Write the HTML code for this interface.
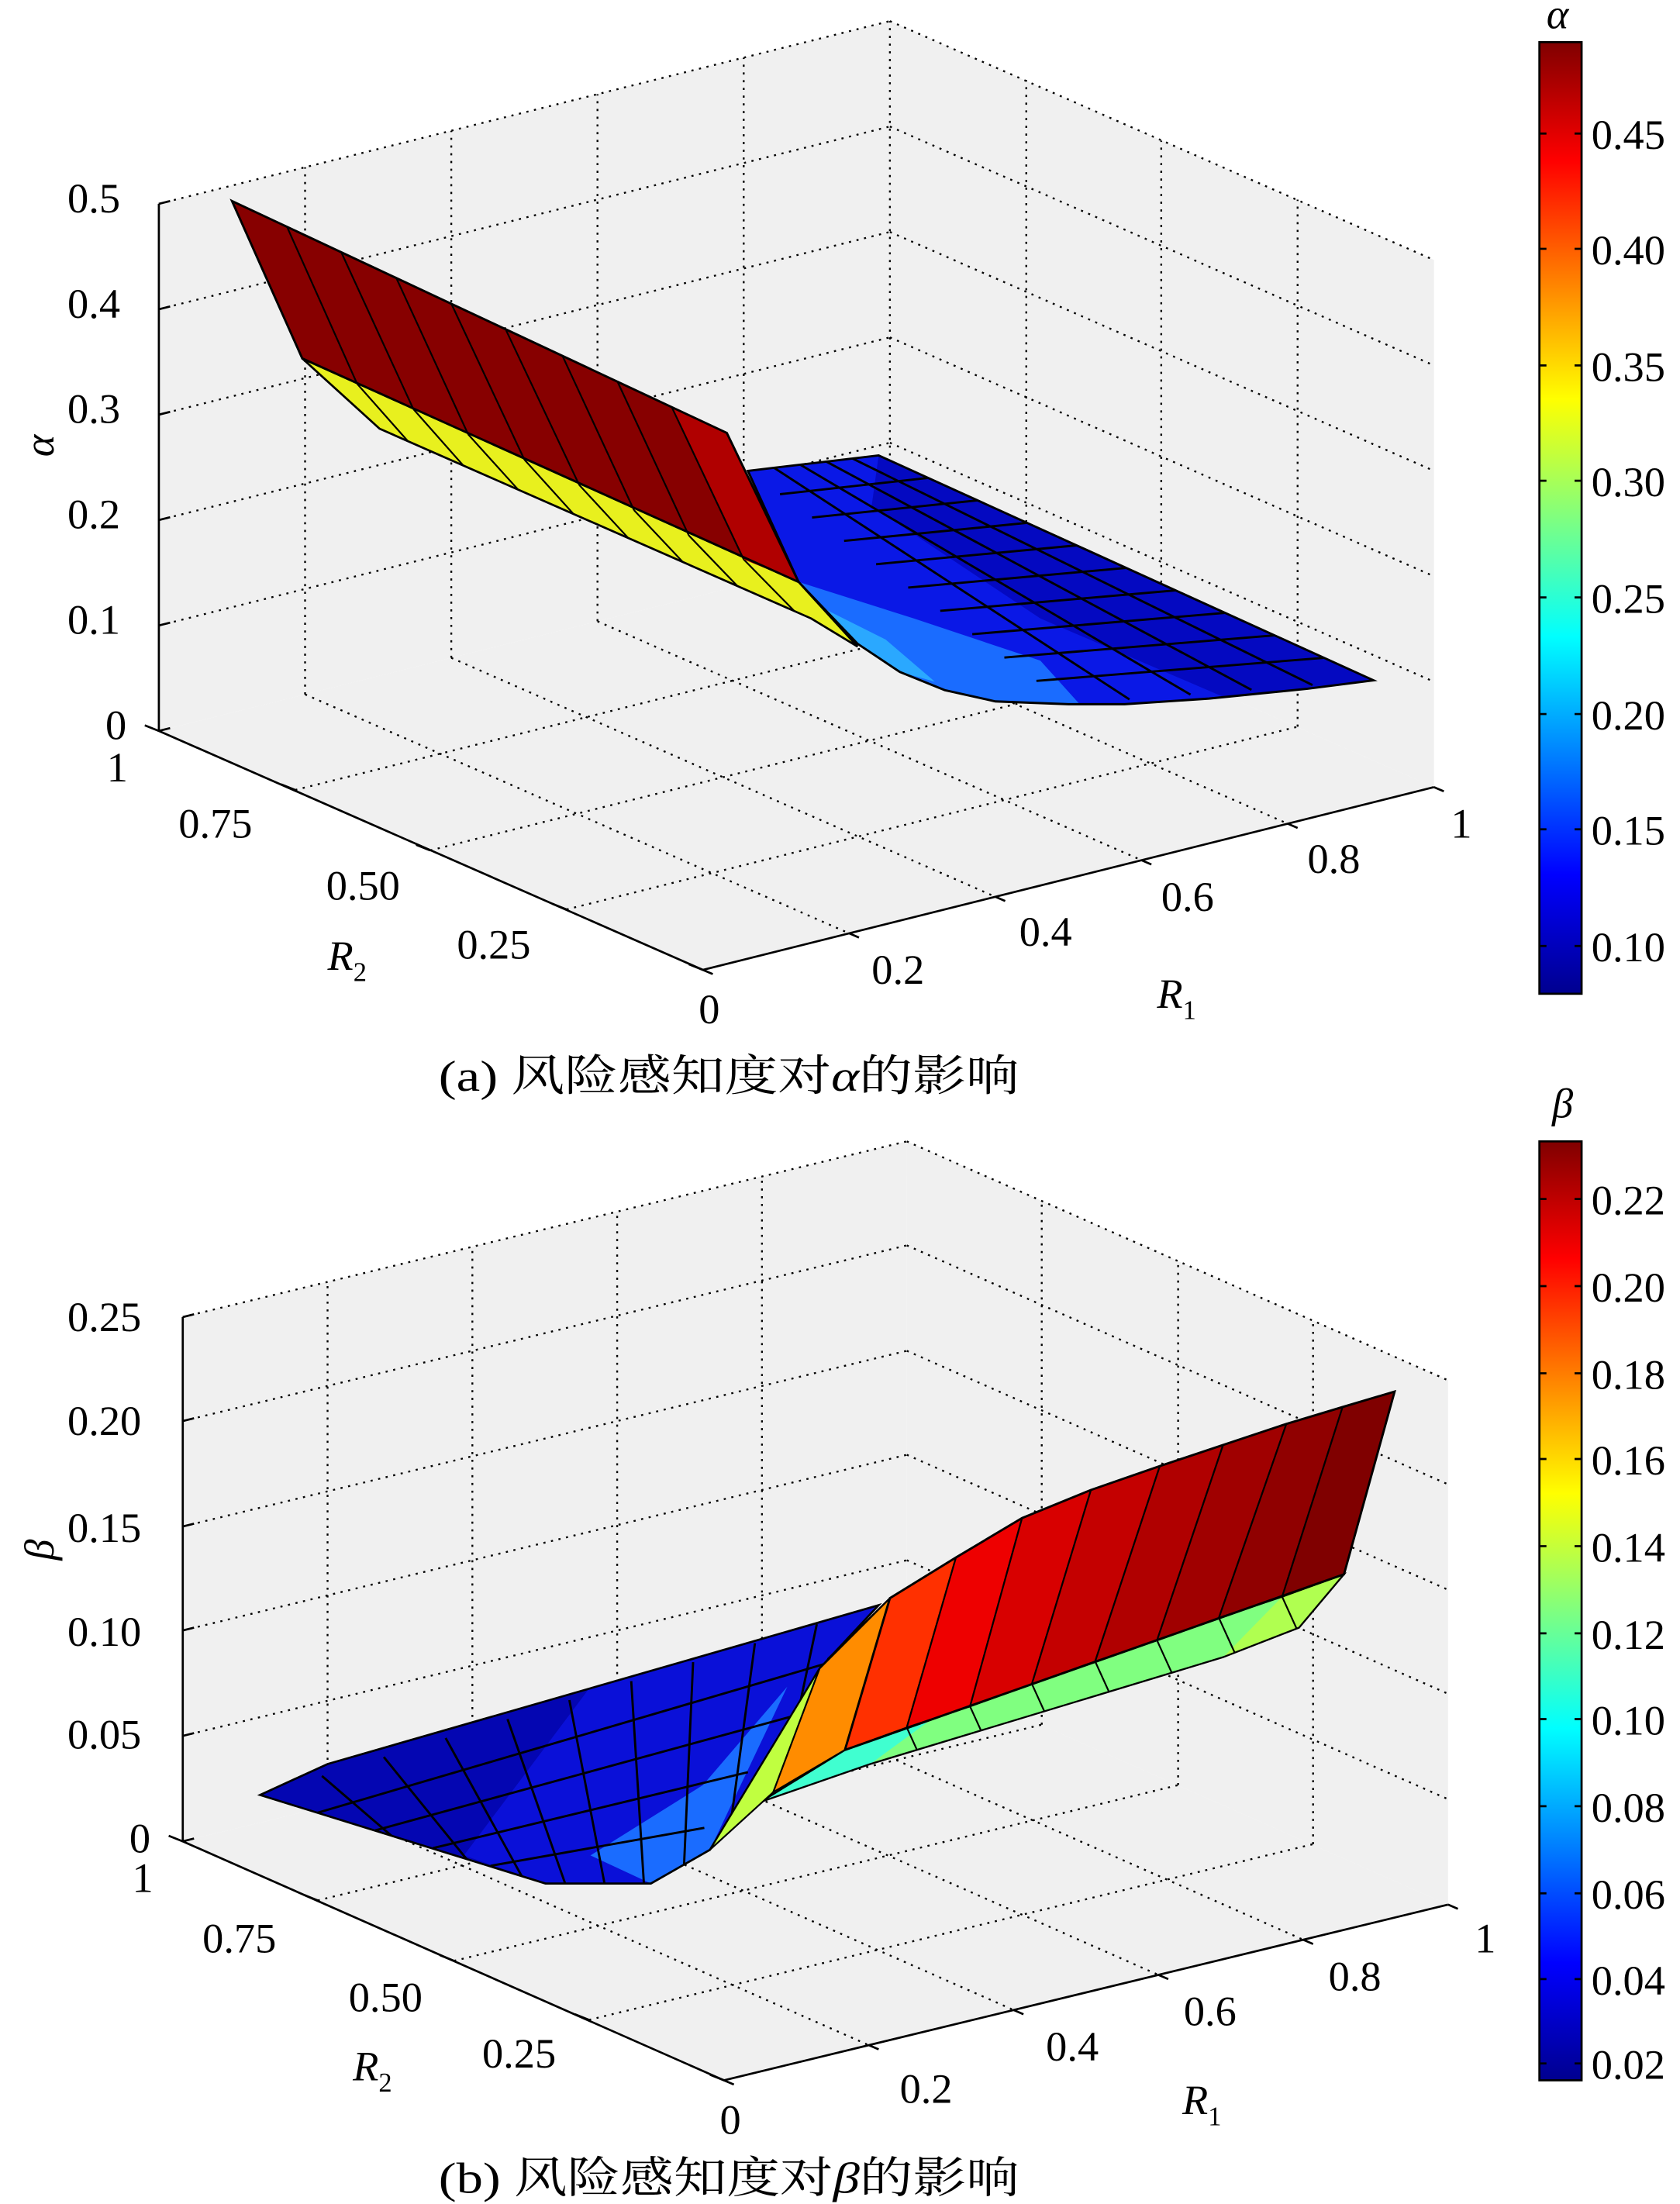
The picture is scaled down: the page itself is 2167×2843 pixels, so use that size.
<!DOCTYPE html>
<html><head><meta charset="utf-8"><style>html,body{margin:0;padding:0;background:#fff}svg{display:block}text{font-family:"Liberation Serif","Noto Serif CJK SC",serif}</style></head>
<body>
<svg width="2167" height="2843" viewBox="0 0 1195 1568" preserveAspectRatio="none" xmlns="http://www.w3.org/2000/svg">
<defs>
<linearGradient id="jet" x1="0" y1="1" x2="0" y2="0">
<stop offset="0" stop-color="#00008f"/><stop offset="0.125" stop-color="#0000ff"/><stop offset="0.375" stop-color="#00ffff"/><stop offset="0.625" stop-color="#ffff00"/><stop offset="0.875" stop-color="#ff0000"/><stop offset="1" stop-color="#800000"/>
</linearGradient>
<clipPath id="cBlueA"><polygon points="532,335 625,324 977,484 930,490 860,497 800,501 760,501 708,499 672,491 640,478 610,458 568,414"/></clipPath>
<clipPath id="cYel"><polygon points="215,255 568,414 610,460 577,440 270,305"/></clipPath>
<clipPath id="cBlueB"><polygon points="185,1277 233,1255 625,1142 583,1187 505,1316 463,1340 388,1340"/></clipPath>
<clipPath id="cGrn"><polygon points="541,1282 601,1245 956,1120 924,1158 870,1179 619,1255"/></clipPath>
</defs>
<rect width="1195" height="1568" fill="#fff"/>

<!-- ===== TOP CHART ===== -->
<g>
<polygon points="113,145 633,15 633,390 113,520" fill="#f0f0f0"/>
<polygon points="633,15 1020,185 1020,560 633,390" fill="#f0f0f0"/>
<polygon points="113,520 633,390 1020,560 500,690" fill="#f0f0f0"/>
<g stroke="#000" stroke-width="1.3" stroke-dasharray="1.5 4" fill="none">
<path d="M113,445 L633,315 M113,370 L633,240 M113,295 L633,165 M113,220 L633,90 M113,145 L633,15"/>
<path d="M217,494 L217,119 M321,468 L321,93 M425,442 L425,67 M529,416 L529,41 M633,390 L633,15"/>
<path d="M633,315 L1020,485 M633,240 L1020,410 M633,165 L1020,335 M633,90 L1020,260 M633,15 L1020,185"/>
<path d="M730,432 L730,57 M826,475 L826,100 M923,517 L923,142"/>
<path d="M217,494 L604,664 M321,468 L708,638 M425,442 L812,612 M529,416 L916,586"/>
<path d="M210,562 L730,432 M306,605 L826,475 M403,647 L923,517"/>
</g>
<g stroke="#000" stroke-width="1.5" fill="none">
<path d="M113,145 L113,520 L500,690 L1020,560"/>
<path d="M113,145 l8,-2 M113,220 l8,-2 M113,295 l8,-2 M113,370 l8,-2 M113,445 l8,-2 M113,520 l8,-2"/>
<path d="M113,520 l-10,-4 M210,562 l-10,-4 M306,605 l-10,-4 M403,647 l-10,-4 M500,690 l-10,-4"/>
<path d="M500,690 l7,3 M604,664 l7,3 M708,638 l7,3 M812,612 l7,3 M916,586 l7,3 M1020,560 l7,3"/>
</g>
<!-- blue sheet -->
<g clip-path="url(#cBlueA)">
<polygon points="500,300 1000,300 1000,520 500,520" fill="#0a18e6"/>
<polygon points="568,414 610,458 640,478 672,491 708,499 768,501 740,470 650,440" fill="#1a6cff"/>
<polygon points="580,430 610,458 640,478 665,485 630,455" fill="#2aa8ff"/>
<polygon points="625,324 1000,484 880,500 740,440 620,360" fill="#0000a8" opacity="0.6"/>
<g stroke="#000" stroke-width="1.6" fill="none">
<path d="M554.8,351.6 L660.2,340 M577.6,368.2 L695.4,356 M600.4,384.8 L730.6,372 M623.2,401.4 L765.8,388 M646,418 L801,404 M668.8,434.6 L836.2,420 M691.6,451.2 L871.4,436 M714.4,467.8 L906.6,452 M737.2,484.4 L941.8,468"/>
<path d="M550.6,332.8 L803.4,497.6 M569.2,330.6 L846.8,494.2 M587.8,328.4 L890.2,490.8 M606.4,326.2 L933.6,487.4"/>
</g>
</g>
<polygon points="532,335 625,324 977,484 930,490 860,497 800,501 760,501 708,499 672,491 640,478 610,458 568,414" fill="none" stroke="#000" stroke-width="1.6"/>
<!-- yellow -->
<polygon points="215,255 568,414 610,460 577,440 270,305" fill="#e8f01e"/>
<g clip-path="url(#cYel)" stroke="#000" stroke-width="1.2"><path d="M254,273 L300,325 M294,291 L340,343 M333,309 L380,361 M373,327 L420,379 M412,345 L460,397 M451,363 L500,415 M490,381 L540,433 M529,398 L580,450"/></g>
<polygon points="215,255 568,414 610,460 577,440 270,305" fill="none" stroke="#000" stroke-width="1.5"/>
<!-- red -->
<polygon points="165,143 517,308 568,414 215,255" fill="#870000"/>
<polygon points="478,290 517,308 568,414 529,398" fill="#b00000"/>
<g stroke="#000" stroke-width="1.2"><path d="M204,161 L254,273 M243,180 L294,291 M282,198 L333,309 M321,216 L373,327 M360,235 L412,345 M400,253 L451,363 M439,271 L490,381 M478,290 L529,398"/></g>
<polygon points="165,143 517,308 568,414 215,255" fill="none" stroke="#000" stroke-width="1.6"/>
<g font-size="30" fill="#000">
<text x="48" y="151">0.5</text><text x="48" y="226">0.4</text><text x="48" y="301">0.3</text><text x="48" y="376">0.2</text><text x="48" y="451">0.1</text><text x="75" y="526">0</text>
<text x="76" y="556">1</text><text x="127" y="596">0.75</text><text x="232" y="640">0.50</text><text x="325" y="682">0.25</text><text x="497" y="728">0</text>
<text x="620" y="700">0.2</text><text x="725" y="673">0.4</text><text x="826" y="648">0.6</text><text x="930" y="621">0.8</text><text x="1032" y="596">1</text>
</g>
<text x="28" y="335" font-size="30" font-style="italic" transform="rotate(-90 28 325)">α</text>
<text x="233" y="690" font-size="30" font-style="italic">R<tspan font-size="19" font-style="normal" dy="8">2</tspan></text>
<text x="823" y="717" font-size="30" font-style="italic">R<tspan font-size="19" font-style="normal" dy="8">1</tspan></text>
<rect x="1095" y="30" width="30" height="677" fill="url(#jet)" stroke="#000" stroke-width="1.5"/>
<g stroke="#000" stroke-width="1.5"><path d="M1095,95 h5 M1120,95 h5 M1095,177 h5 M1120,177 h5 M1095,260 h5 M1120,260 h5 M1095,342 h5 M1120,342 h5 M1095,425 h5 M1120,425 h5 M1095,508 h5 M1120,508 h5 M1095,590 h5 M1120,590 h5 M1095,673 h5 M1120,673 h5"/></g>
<g font-size="30"><text x="1132" y="106">0.45</text><text x="1132" y="188">0.40</text><text x="1132" y="271">0.35</text><text x="1132" y="353">0.30</text><text x="1132" y="436">0.25</text><text x="1132" y="519">0.20</text><text x="1132" y="601">0.15</text><text x="1132" y="684">0.10</text></g>
<text x="1100" y="20" font-size="30" font-style="italic">α</text>
<text x="312" y="776" font-size="31" textLength="413" lengthAdjust="spacingAndGlyphs">(a) 风险感知度对<tspan font-style="italic">α</tspan>的影响</text>
</g>

<!-- ===== BOTTOM CHART ===== -->
<g>
<polygon points="130,937 645,812 645,1185 130,1310" fill="#f0f0f0"/>
<polygon points="645,812 1030,982 1030,1355 645,1185" fill="#f0f0f0"/>
<polygon points="130,1310 645,1185 1030,1355 515,1480" fill="#f0f0f0"/>
<g stroke="#000" stroke-width="1.3" stroke-dasharray="1.5 4" fill="none">
<path d="M130,1235 L645,1110 M130,1160 L645,1035 M130,1086 L645,961 M130,1011 L645,886 M130,937 L645,812"/>
<path d="M233,1285 L233,912 M336,1260 L336,887 M439,1235 L439,862 M542,1210 L542,837"/>
<path d="M645,1110 L1030,1280 M645,1035 L1030,1205 M645,961 L1030,1131 M645,886 L1030,1056 M645,812 L1030,982"/>
<path d="M741,1227 L741,854 M838,1270 L838,897 M934,1312 L934,939"/>
<path d="M233,1285 L618,1455 M336,1260 L721,1430 M439,1235 L824,1405 M542,1210 L927,1380"/>
<path d="M226,1352 L741,1227 M323,1395 L838,1270 M419,1437 L934,1312"/>
</g>
<g stroke="#000" stroke-width="1.5" fill="none">
<path d="M130,937 L130,1310 L515,1480 L1030,1355"/>
<path d="M130,937 l8,-2 M130,1011 l8,-2 M130,1086 l8,-2 M130,1160 l8,-2 M130,1235 l8,-2 M130,1310 l8,-2"/>
<path d="M130,1310 l-10,-4 M226,1352 l-10,-4 M323,1395 l-10,-4 M419,1437 l-10,-4 M515,1480 l-10,-4"/>
<path d="M515,1480 l7,3 M618,1455 l7,3 M721,1430 l7,3 M824,1405 l7,3 M927,1380 l7,3 M1030,1355 l7,3"/>
</g>
<!-- blue sheet -->
<g clip-path="url(#cBlueB)">
<rect x="150" y="1130" width="500" height="220" fill="#0a10d8"/>
<polygon points="185,1277 233,1255 420,1200 330,1320 388,1340" fill="#00009a" opacity="0.6"/>
<polygon points="420,1320 500,1270 560,1200 505,1316 463,1340" fill="#1a6cff"/>
<g stroke="#000" stroke-width="1.6" fill="none">
<path d="M226,1289.6 L594,1181.6 M267,1302.2 L563,1221.2 M308,1314.8 L532,1260.8 M349,1327.4 L501,1300.4"/>
<path d="M229,1263.5 L318,1340 M273,1250 L346,1340 M317,1236.5 L374,1340 M361,1223 L402,1340 M405,1209.5 L430,1340 M449,1196 L458,1340 M493,1182.5 L486,1340 M537,1169 L514,1340 M581,1155.5 L542,1340"/>
</g>
</g>
<polygon points="185,1277 233,1255 625,1142 583,1187 505,1316 463,1340 388,1340" fill="none" stroke="#000" stroke-width="1.5"/>
<!-- green strip -->
<polygon points="541,1282 601,1245 956,1120 924,1158 870,1179 619,1255" fill="#80ff80"/>
<polygon points="541,1282 601,1245 660,1225 619,1255" fill="#40ffd0"/>
<polygon points="870,1179 912,1136 956,1120 924,1158" fill="#b0ff50"/>
<g clip-path="url(#cGrn)" stroke="#000" stroke-width="1.2"><path d="M645,1229 L660,1262 M690,1214 L705,1247 M734,1198 L749,1231 M779,1182 L794,1215 M823,1167 L838,1200 M867,1151 L882,1184 M912,1136 L927,1169"/></g>
<polygon points="541,1282 601,1245 956,1120 924,1158 870,1179 619,1255" fill="none" stroke="#000" stroke-width="1.3"/>
<!-- green diagonal + orange -->
<polygon points="505,1316 583,1187 633,1137 589,1180 550,1275" fill="#c0ff40" stroke="#000" stroke-width="1.2"/>
<polygon points="583,1187 633,1137 601,1245 550,1275" fill="#ff8c00" stroke="#000" stroke-width="1.2"/>
<!-- red strips -->
<g stroke="#000" stroke-width="1.2">
<polygon points="633,1137 680,1108 645,1229 601,1245" fill="#ff3000"/>
<polygon points="680,1108 727,1080 690,1214 645,1229" fill="#ee0000"/>
<polygon points="727,1080 776,1060 734,1198 690,1214" fill="#d80000"/>
<polygon points="776,1060 825,1043 779,1182 734,1198" fill="#c40000"/>
<polygon points="825,1043 870,1028 823,1167 779,1182" fill="#b00000"/>
<polygon points="870,1028 915,1013 867,1151 823,1167" fill="#a00000"/>
<polygon points="915,1013 955,1001 912,1136 867,1151" fill="#900000"/>
<polygon points="955,1001 992,990 956,1120 912,1136" fill="#800000"/>
</g>
<polygon points="633,1137 680,1108 727,1080 776,1060 825,1043 870,1028 915,1013 955,1001 992,990 956,1120 601,1245" fill="none" stroke="#000" stroke-width="1.6"/>
<g font-size="30" fill="#000">
<text x="48" y="947">0.25</text><text x="48" y="1021">0.20</text><text x="48" y="1097">0.15</text><text x="48" y="1171">0.10</text><text x="48" y="1244">0.05</text><text x="92" y="1318">0</text>
<text x="94" y="1346">1</text><text x="144" y="1389">0.75</text><text x="248" y="1431">0.50</text><text x="343" y="1471">0.25</text><text x="512" y="1518">0</text>
<text x="640" y="1496">0.2</text><text x="744" y="1466">0.4</text><text x="842" y="1441">0.6</text><text x="945" y="1416">0.8</text><text x="1049" y="1389">1</text>
</g>
<text x="28" y="1120" font-size="30" font-style="italic" transform="rotate(-90 28 1110)">β</text>
<text x="251" y="1480" font-size="30" font-style="italic">R<tspan font-size="19" font-style="normal" dy="8">2</tspan></text>
<text x="841" y="1504" font-size="30" font-style="italic">R<tspan font-size="19" font-style="normal" dy="8">1</tspan></text>
<rect x="1095" y="812" width="30" height="668" fill="url(#jet)" stroke="#000" stroke-width="1.5"/>
<g stroke="#000" stroke-width="1.5"><path d="M1095,853 h5 M1120,853 h5 M1095,915 h5 M1120,915 h5 M1095,977 h5 M1120,977 h5 M1095,1038 h5 M1120,1038 h5 M1095,1100 h5 M1120,1100 h5 M1095,1162 h5 M1120,1162 h5 M1095,1223 h5 M1120,1223 h5 M1095,1285 h5 M1120,1285 h5 M1095,1347 h5 M1120,1347 h5 M1095,1408 h5 M1120,1408 h5 M1095,1468 h5 M1120,1468 h5"/></g>
<g font-size="30"><text x="1132" y="864">0.22</text><text x="1132" y="926">0.20</text><text x="1132" y="988">0.18</text><text x="1132" y="1049">0.16</text><text x="1132" y="1111">0.14</text><text x="1132" y="1173">0.12</text><text x="1132" y="1234">0.10</text><text x="1132" y="1296">0.08</text><text x="1132" y="1358">0.06</text><text x="1132" y="1419">0.04</text><text x="1132" y="1479">0.02</text></g>
<text x="1104" y="795" font-size="30" font-style="italic">β</text>
<text x="312" y="1560" font-size="31" textLength="413" lengthAdjust="spacingAndGlyphs">(b) 风险感知度对<tspan font-style="italic">β</tspan>的影响</text>
</g>
</svg>
</body></html>
